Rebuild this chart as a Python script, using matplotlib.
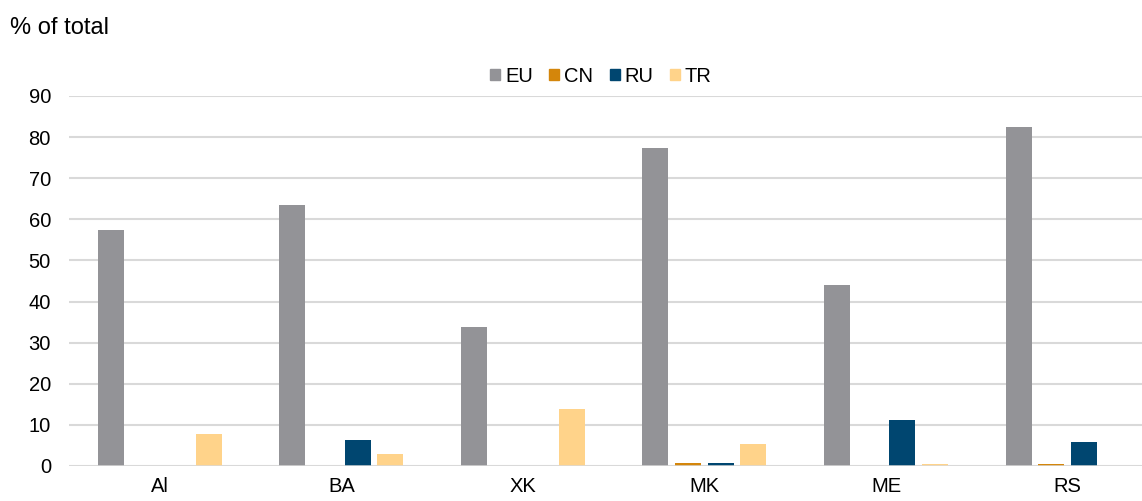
import numpy as np
import matplotlib.pyplot as plt
from matplotlib.patches import Patch

plt.rcParams['font.family'] = ['Liberation Sans', 'DejaVu Sans']

# Daten (% of total)
countries = ['Al', 'BA', 'XK', 'MK', 'ME', 'RS']
eu = [57.4, 63.5, 33.8, 77.3, 44.0, 82.5]
cn = [0.0, 0.0, 0.0, 0.7, 0.0, 0.4]
ru = [0.0, 6.2, 0.0, 0.7, 11.3, 5.8]
tr = [7.9, 2.9, 13.9, 5.3, 0.6, 0.0]

series = ['EU', 'CN', 'RU', 'TR']
colors = ['#939397', '#D4860B', '#004670', '#FFD38A']
values = [eu, cn, ru, tr]

fig = plt.figure(figsize=(11.42, 5.01), dpi=100)
ax = fig.add_axes([0.0604, 0.0699, 0.9396, 0.7385])

x = np.arange(len(countries))
slot = 0.18
width = 0.143
for i, (vals, col) in enumerate(zip(values, colors)):
    ax.bar(x + (i - 1.5) * slot, vals, width, color=col, zorder=3)

ax.set_xlim(-0.5, 5.41)
ax.set_ylim(0, 90)
ax.set_yticks(range(0, 91, 10))
ax.set_xticks(x)
ax.set_xticklabels(countries)
ax.tick_params(length=0, labelsize=14.5, colors='black')
ax.tick_params(axis='y', pad=13)
ax.tick_params(axis='x', pad=8)
ax.grid(axis='y', color='#d9d9d9', linewidth=1.5, zorder=0)
for s in ax.spines.values():
    s.set_visible(False)
ax.axhline(0, color='#d9d9d9', linewidth=1.8, zorder=4)

handles = [Patch(color=c, label=s) for s, c in zip(series, colors)]
fig.legend(handles=handles, loc='center', bbox_to_anchor=(601 / 1142, 1 - 76 / 501),
           ncol=4, frameon=False, fontsize=14.5, handlelength=0.5, handleheight=0.5,
           handletextpad=0.25, columnspacing=0.8)

fig.text(10 / 1142, 1 - 28 / 501, '% of total', fontsize=17, va='center', ha='left')

plt.savefig('out.png', dpi=100)
